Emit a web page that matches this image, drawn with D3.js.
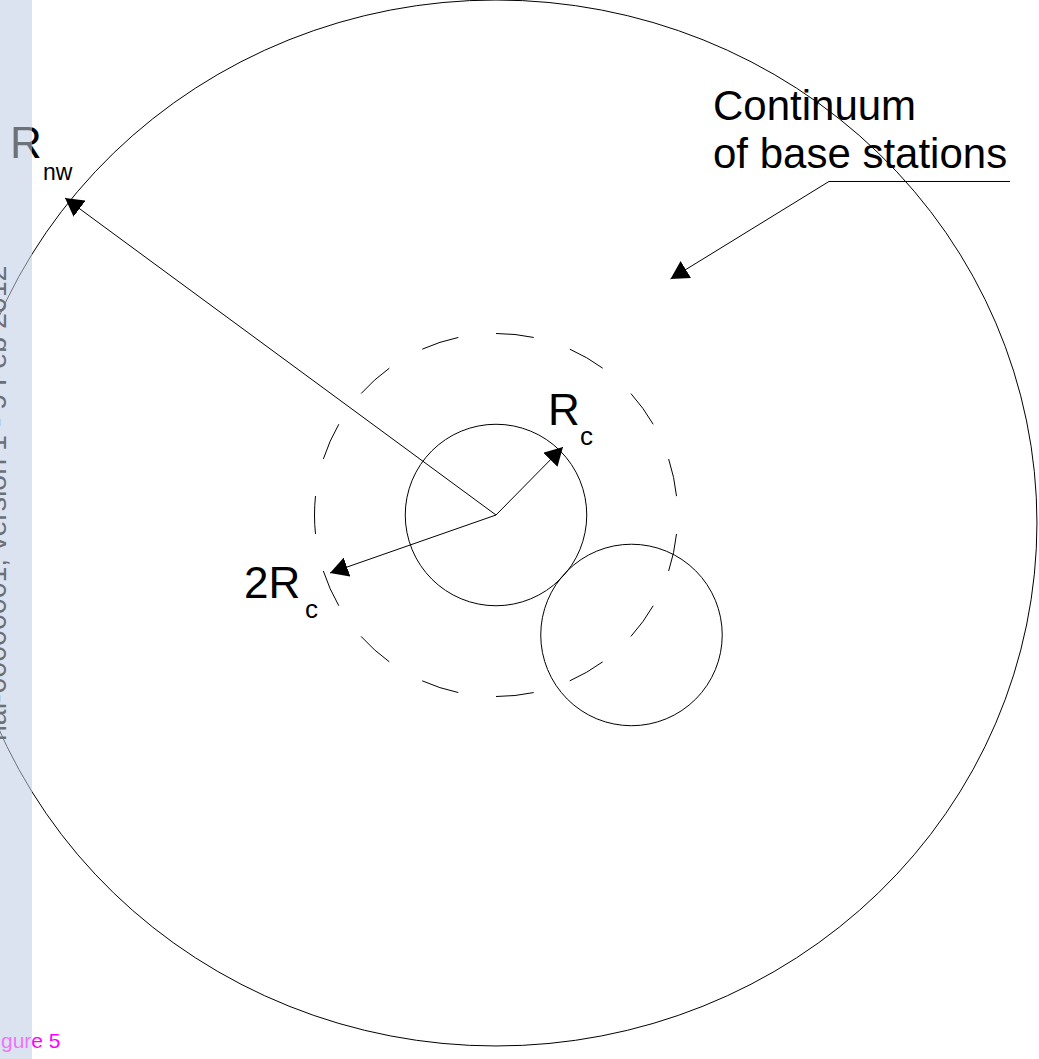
<!DOCTYPE html>
<html>
<head>
<meta charset="utf-8">
<script src="https://cdn.jsdelivr.net/npm/d3@7"></script>
<style>
  body { margin: 0; background: #fff; }
  text { font-family: "Liberation Sans", Arial, sans-serif; }
</style>
</head>
<body>
<svg id="chart"></svg>
<script>
// diagram values, in units of the cell radius Rc (centre of serving cell = 0,0)
const cellNames = ['serving', 'neighbour'];
const cellX = [0, 1.493];
const cellY = [0, -1.322];
const cellR = [1, 1];

const guardR = 2; // dashed circle, 2Rc

const networkX = 0;
const networkY = -0.088;
const networkRx = 5.961;
const networkRy = 5.763;

const arrowNames = ['Rnw', 'Rc', '2Rc'];
const arrowTipX = [-4.749, 0.738, -1.829];
const arrowTipY = [3.493, 0.749, -0.639];

const leaderX = [5.664, 3.669, 1.923];
const leaderY = [3.675, 3.675, 2.601];

const labelText = ['R', 'nw', 'R', 'c', '2R', 'c', 'Continuum', 'of base stations'];
const labelX = [-5.355, -4.992, 0.573, 0.926, -2.777, -2.105, 2.391, 2.391];
const labelY = [3.934, 3.691, 0.992, 0.771, -0.915, -1.135, 4.353, 3.824];
const labelSize = [44, 23, 44, 26, 44, 26, 42, 42];

const watermark = 'hal-00000001, version 1 - 9 Feb 2012';
const caption = 'Figure 5';

const width = 1039;
const height = 1059;
const BAND = 32;

const svg = d3.select('#chart')
  .attr('width', width)
  .attr('height', height);

const x = d3.scaleLinear().domain([0, 1]).range([496, 586.75]);
const y = d3.scaleLinear().domain([0, 1]).range([515, 424.25]);
const len = v => x(v) - x(0);

svg.append('defs').append('marker')
  .attr('id', 'head')
  .attr('viewBox', '0 -10 18 20')
  .attr('refX', 18)
  .attr('refY', 0)
  .attr('markerWidth', 18)
  .attr('markerHeight', 20)
  .attr('markerUnits', 'userSpaceOnUse')
  .attr('orient', 'auto')
  .append('path')
  .attr('d', 'M0,-10L18,0L0,10Z')
  .attr('fill', '#000');

// side band (under the drawing)
svg.append('rect')
  .attr('x', 0).attr('y', 0)
  .attr('width', BAND).attr('height', height)
  .attr('fill', '#dbe3f0');

const diagram = svg.append('g');

diagram.append('ellipse')
  .attr('cx', x(networkX))
  .attr('cy', y(networkY))
  .attr('rx', len(networkRx))
  .attr('ry', len(networkRy))
  .attr('fill', 'none')
  .attr('stroke', '#000')
  .attr('stroke-width', 1);

diagram.append('circle')
  .attr('cx', x(0))
  .attr('cy', y(0))
  .attr('r', len(guardR))
  .attr('fill', 'none')
  .attr('stroke', '#000')
  .attr('stroke-width', 1)
  .attr('stroke-dasharray', '38,38')
  .attr('stroke-dashoffset', 57);

diagram.selectAll('.cell')
  .data(cellNames)
  .join('circle')
  .attr('class', 'cell')
  .attr('cx', (d, i) => x(cellX[i]))
  .attr('cy', (d, i) => y(cellY[i]))
  .attr('r', (d, i) => len(cellR[i]))
  .attr('fill', 'none')
  .attr('stroke', '#000')
  .attr('stroke-width', 1);

diagram.selectAll('.radius')
  .data(arrowNames)
  .join('line')
  .attr('class', 'radius')
  .attr('x1', x(0))
  .attr('y1', y(0))
  .attr('x2', (d, i) => x(arrowTipX[i]))
  .attr('y2', (d, i) => y(arrowTipY[i]))
  .attr('stroke', '#000')
  .attr('stroke-width', 1)
  .attr('marker-end', 'url(#head)');

const leader = d3.line()
  .x(d => x(d[0]))
  .y(d => y(d[1]));

diagram.append('path')
  .datum(leaderX.map((v, i) => [v, leaderY[i]]))
  .attr('d', leader)
  .attr('fill', 'none')
  .attr('stroke', '#000')
  .attr('stroke-width', 1)
  .attr('marker-end', 'url(#head)');

diagram.selectAll('.label')
  .data(labelText)
  .join('text')
  .attr('class', 'label')
  .attr('x', (d, i) => x(labelX[i]))
  .attr('y', (d, i) => y(labelY[i]))
  .attr('font-size', (d, i) => labelSize[i])
  .attr('fill', '#000')
  .text(d => d);

diagram.append('text')
  .attr('x', 60.5)
  .attr('y', 1048)
  .attr('text-anchor', 'end')
  .attr('font-size', 21)
  .attr('fill', '#ff00ff')
  .text(caption);

// band veil over whatever crosses it
svg.append('rect')
  .attr('x', 0).attr('y', 0)
  .attr('width', BAND).attr('height', height)
  .attr('fill', '#dbe3f0')
  .attr('opacity', 0.5);

svg.append('text')
  .attr('transform', 'translate(6,741) rotate(-90)')
  .attr('font-size', 28.5)
  .attr('fill', '#6b6f76')
  .text(watermark);
</script>
</body>
</html>
